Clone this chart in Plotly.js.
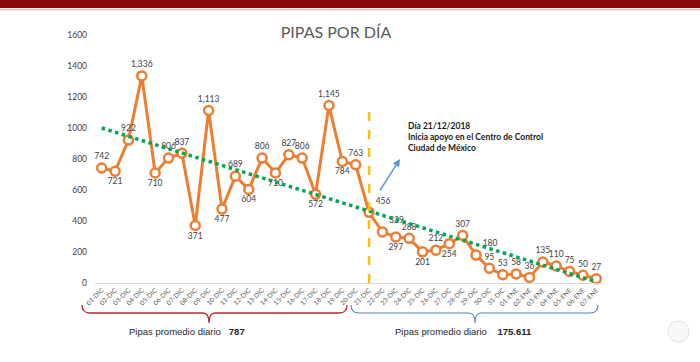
<!DOCTYPE html>
<html>
<head>
<meta charset="utf-8">
<script src="https://cdn.plot.ly/plotly-3.0.1.min.js"></script>
<style>html,body{margin:0;padding:0;background:#fff;}#chart{width:700px;height:362px;}</style>
</head>
<body>
<div id="chart"></div>
<script>
const days = ["01-DIC","02-DIC","03-DIC","04-DIC","05-DIC","06-DIC","07-DIC","08-DIC","09-DIC","10-DIC",
  "11-DIC","12-DIC","13-DIC","14-DIC","15-DIC","16-DIC","17-DIC","18-DIC","19-DIC","20-DIC",
  "21-DIC","22-DIC","23-DIC","24-DIC","25-DIC","26-DIC","27-DIC","28-DIC","29-DIC","30-DIC","31-DIC",
  "01-ENE","02-ENE","03-ENE","04-ENE","05-ENE","06-ENE","07-ENE"];
const pipas = [742,721,922,1336,710,806,837,371,1113,477,
  689,604,806,710,827,806,572,1145,784,763,
  456,329,297,288,201,212,254,307,180,95,53,
  58,36,135,110,75,50,27];
const trendDays = ["01-DIC","07-ENE"];
const trendValues = [1000, 8];
const eventDay = "21-DIC";
const avgBefore = "787";
const avgAfter = "175.611";

const labelPos = ["top center","bottom center","top center","top center","bottom center","top center","top center","bottom center","top center","bottom center",
  "top center","bottom center","top center","bottom center","top center","top center","bottom center","top center","bottom center","top center",
  "top right","top right","bottom center","top center","bottom center","top center","bottom center","top center","top right","top center","top center",
  "top center","top center","top center","top center","top center","top center","top center"];

const traces = [
  {
    x: days, y: pipas, type: 'scatter', mode: 'lines+markers+text',
    line: {color: '#ED7D31', width: 3},
    marker: {size: 9, color: '#ffffff', line: {color: '#ED7D31', width: 2.5}},
    texttemplate: '%{y:,}', textposition: labelPos,
    textfont: {family: 'Lato, sans-serif', size: 8.5, color: '#404040'},
    cliponaxis: false, hoverinfo: 'x+y'
  },
  {
    x: trendDays, y: trendValues, type: 'scatter', mode: 'lines',
    line: {color: '#00A651', width: 3.5, dash: 'dot'}, hoverinfo: 'skip'
  }
];

function px(v){ return (v-95)/508; }
function py(v){ return (283-v)/248; }

function brace(x0, xm, x1){
  const yb = py(313), ye = py(305), yt = py(323);
  return `M ${px(x0)},${ye} Q ${px(x0)},${yb} ${px(x0+8)},${yb} L ${px(xm-6)},${yb} Q ${px(xm)},${yb} ${px(xm)},${yt} Q ${px(xm)},${yb} ${px(xm+6)},${yb} L ${px(x1-8)},${yb} Q ${px(x1)},${yb} ${px(x1)},${ye}`;
}

const layout = {
  width: 700, height: 362,
  margin: {l: 95, r: 97, t: 35, b: 79},
  paper_bgcolor: '#ffffff', plot_bgcolor: 'rgba(0,0,0,0)',
  showlegend: false,
  title: {text: 'PIPAS POR DÍA', x: 0.48, xanchor: 'center', y: 0.91, yanchor: 'middle',
    font: {family: 'Lato, sans-serif', size: 16, color: '#595959'}},
  xaxis: {
    type: 'category', range: [-0.5, 37.5], showgrid: false, zeroline: false,
    showline: true, linecolor: '#d9d9d9', linewidth: 1, ticks: '',
    tickangle: -45, tickfont: {family: 'Lato, sans-serif', size: 6.5, color: '#595959'},
    fixedrange: true
  },
  yaxis: {
    range: [0, 1600], dtick: 200, showgrid: false, zeroline: false, showline: false,
    ticks: '', ticklabelstandoff: 7,
    tickfont: {family: 'Lato, sans-serif', size: 8.5, color: '#404040'}, fixedrange: true
  },
  shapes: [
    {type: 'rect', xref: 'paper', yref: 'paper', x0: px(0), x1: px(700), y0: py(0), y1: py(8),
      fillcolor: '#8a0a0c', line: {width: 0}, layer: 'below'},
    {type: 'line', xref: 'paper', yref: 'paper', x0: px(0), x1: px(700), y0: py(9.5), y1: py(9.5),
      line: {color: '#e3b7b0', width: 1.5}, layer: 'below'},
    {type: 'line', xref: 'x', yref: 'paper', x0: eventDay, x1: eventDay, y0: 0, y1: py(112),
      line: {color: '#FFC000', width: 2.5, dash: 'dash'}},
    {type: 'path', xref: 'paper', yref: 'paper', path: brace(82, 209, 347),
      line: {color: '#C0272D', width: 1.3}},
    {type: 'path', xref: 'paper', yref: 'paper', path: brace(351, 475, 598),
      line: {color: '#4F81BD', width: 1.1}},
    {type: 'circle', xref: 'paper', yref: 'paper', x0: px(668), x1: px(689), y0: py(321), y1: py(342),
      line: {color: '#e6e0e0', width: 1}, fillcolor: '#faf7f7'}
  ],
  annotations: [
    {xref: 'paper', yref: 'paper', x: px(406), y: py(119), xanchor: 'left', yanchor: 'top', align: 'left',
      showarrow: false,
      text: '<b>Día 21/12/2018<br>Inicia apoyo en el Centro de Control<br>Ciudad de México</b>',
      font: {family: 'Lato, sans-serif', size: 8.5, color: '#1a1a1a'}},
    {xref: 'paper', yref: 'paper', x: px(400), y: py(159), axref: 'pixel', ayref: 'pixel', ax: -21, ay: 33,
      showarrow: true, arrowhead: 2, arrowsize: 1, arrowwidth: 1.5, arrowcolor: '#5B9BD5', text: ''},
    {xref: 'paper', yref: 'paper', x: px(127), y: py(331), xanchor: 'left', yanchor: 'middle', showarrow: false,
      text: 'Pipas promedio diario &nbsp;&nbsp;<b>' + avgBefore + '</b>',
      font: {family: 'Liberation Sans, Arial, sans-serif', size: 9.5, color: '#262626'}},
    {xref: 'paper', yref: 'paper', x: px(393), y: py(331), xanchor: 'left', yanchor: 'middle', showarrow: false,
      text: 'Pipas promedio diario &nbsp;&nbsp;&nbsp;<b>' + avgAfter + '</b>',
      font: {family: 'Liberation Sans, Arial, sans-serif', size: 9.5, color: '#262626'}}
  ]
};

Plotly.newPlot('chart', traces, layout, {displayModeBar: false, staticPlot: true});
</script>
</body>
</html>
